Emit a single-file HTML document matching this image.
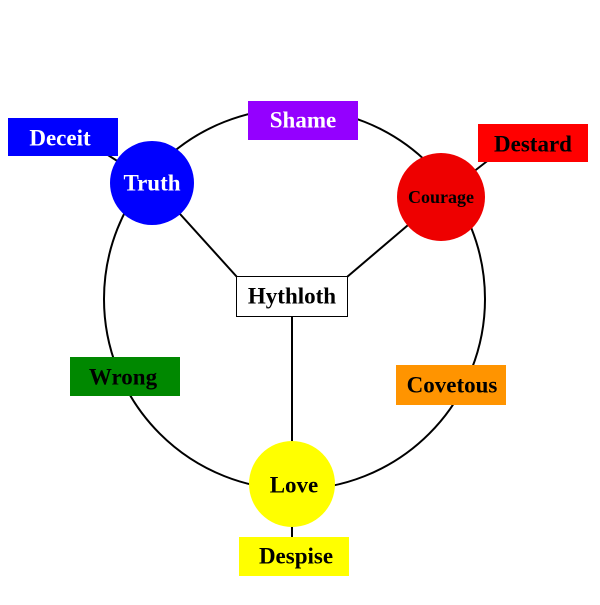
<!DOCTYPE html>
<html><head><style>
body{margin:0;background:#fff;}
svg text{font-family:"Liberation Serif",serif;font-weight:bold;text-anchor:middle;dominant-baseline:central;}
</style></head><body>
<svg width="600" height="600" xmlns="http://www.w3.org/2000/svg">
<circle cx="294.5" cy="299" r="190.5" fill="none" stroke="#000" stroke-width="2"/>
<line x1="152" y1="183" x2="237" y2="277" stroke="#000" stroke-width="2"/>
<line x1="441" y1="197" x2="347" y2="277" stroke="#000" stroke-width="2"/>
<line x1="292" y1="296" x2="292" y2="484" stroke="#000" stroke-width="2"/>
<line x1="100" y1="150" x2="152" y2="183" stroke="#000" stroke-width="2"/>
<line x1="495" y1="155" x2="441" y2="197" stroke="#000" stroke-width="2"/>
<line x1="292" y1="484" x2="292" y2="545" stroke="#000" stroke-width="2"/>
<rect x="8" y="118" width="110" height="38" fill="#0000ff"/>
<text x="60" y="138" fill="#fff" font-size="23">Deceit</text>
<rect x="248" y="101" width="110" height="39" fill="#9400ff"/>
<text x="303" y="120" fill="#fff" font-size="23">Shame</text>
<rect x="478" y="124" width="110" height="38" fill="#ff0000"/>
<text x="533" y="144" fill="#000" font-size="23">Destard</text>
<rect x="70" y="357" width="110" height="39" fill="#008800"/>
<text x="123" y="377" fill="#000" font-size="23">Wrong</text>
<rect x="396" y="365" width="110" height="40" fill="#ff9400"/>
<text x="452" y="385" fill="#000" font-size="23">Covetous</text>
<rect x="239" y="537" width="110" height="39" fill="#ffff00"/>
<text x="296" y="556" fill="#000" font-size="23">Despise</text>
<circle cx="152" cy="183" r="42" fill="#0000ff"/>
<text x="152" y="183" fill="#fff" font-size="23">Truth</text>
<circle cx="441" cy="197" r="44" fill="#ee0000"/>
<text x="441" y="197" fill="#000" font-size="18">Courage</text>
<circle cx="292" cy="484" r="43" fill="#ffff00"/>
<text x="294" y="485" fill="#000" font-size="23">Love</text>
<rect x="236.5" y="276.5" width="111" height="40" fill="#fff" stroke="#000" stroke-width="1"/>
<text x="292" y="296" fill="#000" font-size="23">Hythloth</text>
</svg>
</body></html>
